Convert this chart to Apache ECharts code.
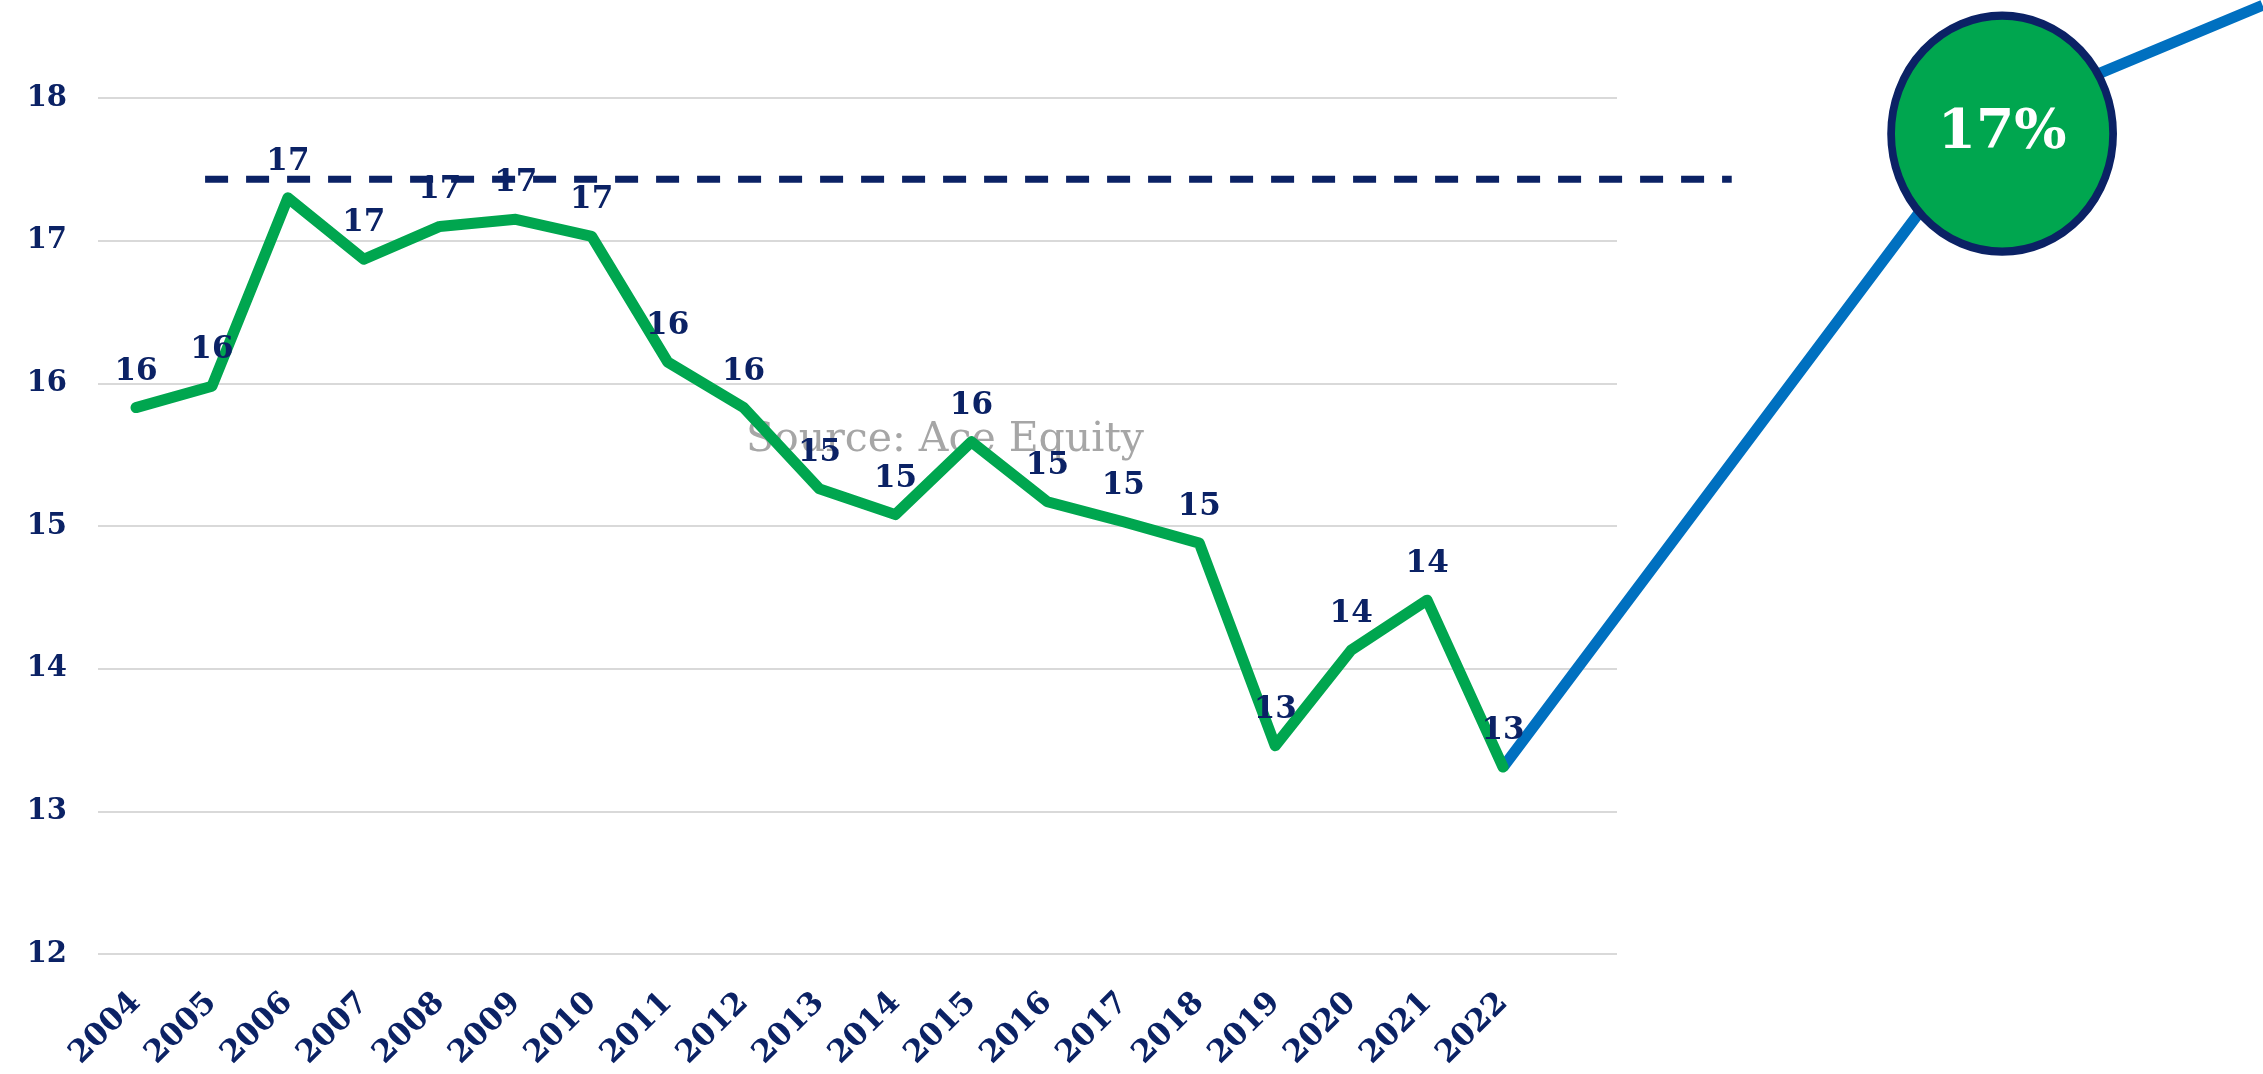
<!DOCTYPE html>
<html>
<head>
<meta charset="utf-8">
<script src="https://cdn.jsdelivr.net/npm/echarts@6/dist/echarts.min.js"></script>
<style>
  body { margin: 0; background: #fff; }
  #chart { width: 2263px; height: 1074px; }
</style>
</head>
<body>
<div id="chart"></div>
<script>
// categories
const years = ['2004', '2005', '2006', '2007', '2008', '2009', '2010', '2011', '2012', '2013',
  '2014', '2015', '2016', '2017', '2018', '2019', '2020', '2021', '2022']
// series values
const values = [15.83, 15.98, 17.30, 16.87, 17.10, 17.15, 17.03, 16.15, 15.83, 15.26,
  15.08, 15.59, 15.17, 15.03, 14.88, 13.46, 14.13, 14.48, 13.31]
// y axis ticks
const yTicks = [12, 13, 14, 15, 16, 17, 18]
// dashed reference level and its span (category index units)
const dashLevel = 17.43
const dashFrom = 0.91
const dashTo = 21.01
// the blue arrow going up from 2022 (index units / values)
const arrowX = [18, 24.40, 28.0]
const arrowY = [13.31, 17.85, 18.65]
// the green badge
const badgeX = 24.57
const badgeY = 17.75
const badgeText = '17%'
const sourceText = 'Source: Ace Equity'

const navy = '#0B2265'
const green = '#00A64F'
const blue = '#0070C0'
const font = '"DejaVu Serif", serif'

// overlay grid spans the whole width, same x step and y scale as the main grid
const overlayMaxX = 28.005
const overlayMaxY = 18.687

const chart = echarts.init(document.getElementById('chart'))
chart.setOption({
  animation: false,
  grid: [
    { left: 98, right: 646, top: 98, bottom: 120 },
    { left: 98, right: 0, top: 0, bottom: 120 }
  ],
  graphic: [
    {
      type: 'text', z: 0, x: 945, y: 440,
      style: {
        text: sourceText, fill: '#A6A6A6', font: '41px "DejaVu Serif", serif',
        textAlign: 'center', textVerticalAlign: 'middle'
      }
    }
  ],
  xAxis: [
    {
      type: 'category',
      gridIndex: 0,
      data: years.concat(['']),
      boundaryGap: true,
      axisLine: { show: false },
      axisTick: { show: false },
      axisLabel: {
        rotate: 45, margin: 44, interval: 0,
        color: navy, fontFamily: font, fontWeight: 'bold', fontSize: 31
      }
    },
    { type: 'value', gridIndex: 1, show: false, min: -0.5, max: overlayMaxX, splitLine: { show: false } }
  ],
  yAxis: [
    {
      type: 'value',
      gridIndex: 0,
      min: yTicks[0], max: yTicks[yTicks.length - 1], interval: 1,
      axisLine: { show: false },
      axisTick: { show: false },
      axisLabel: { margin: 31, color: navy, fontFamily: font, fontWeight: 'bold', fontSize: 29 },
      splitLine: { lineStyle: { color: '#D9D9D9', width: 2 } }
    },
    { type: 'value', gridIndex: 1, show: false, min: 12, max: overlayMaxY, splitLine: { show: false } }
  ],
  series: [
    {
      type: 'line', xAxisIndex: 1, yAxisIndex: 1, z: 1,
      data: [[dashFrom, dashLevel], [dashTo, dashLevel]],
      symbol: 'none',
      lineStyle: { color: navy, width: 7, type: [23, 18] }
    },
    {
      type: 'line', xAxisIndex: 1, yAxisIndex: 1, z: 2,
      data: arrowX.map((x, i) => [x, arrowY[i]]),
      symbol: 'none',
      lineStyle: { color: blue, width: 11 }
    },
    {
      type: 'line', xAxisIndex: 0, yAxisIndex: 0, z: 3,
      data: values,
      symbol: 'circle', symbolSize: 1, showAllSymbol: true,
      itemStyle: { color: green },
      lineStyle: { color: green, width: 11, cap: 'round', join: 'round' },
      label: {
        show: true, position: 'top', distance: 20,
        color: navy, fontFamily: font, fontWeight: 'bold', fontSize: 31,
        formatter: p => Math.round(p.value)
      }
    },
    {
      type: 'scatter', xAxisIndex: 1, yAxisIndex: 1, z: 5,
      data: [[badgeX, badgeY]],
      symbol: 'circle', symbolSize: [222, 236],
      itemStyle: { color: green, borderColor: navy, borderWidth: 8, opacity: 1 },
      label: {
        show: true, position: 'inside', formatter: badgeText,
        color: '#fff', fontFamily: font, fontWeight: 'bold', fontSize: 55
      }
    }
  ]
})
</script>
</body>
</html>
